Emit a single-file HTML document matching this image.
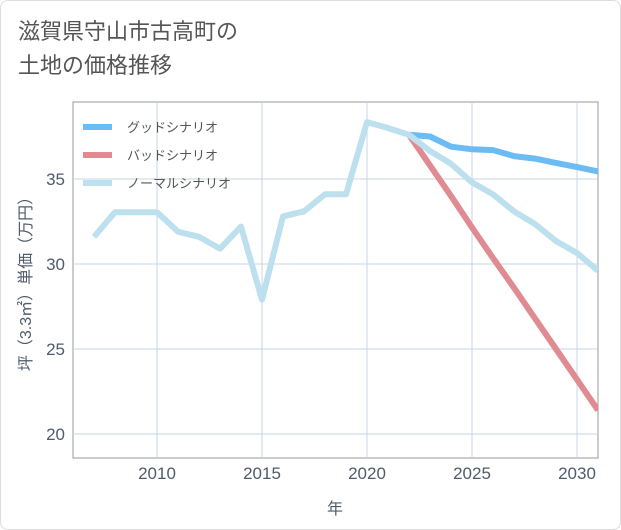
<!DOCTYPE html>
<html><head><meta charset="utf-8"><style>
body{margin:0;background:#fff;}
#wrap{position:relative;width:619px;height:528px;border:1px solid #ddd;border-radius:8px;background:#fff;overflow:hidden;font-family:"Liberation Sans","Noto Sans CJK JP",sans-serif;}
#title{position:absolute;left:17px;top:14px;font-size:22px;line-height:34px;color:#555;}
svg{position:absolute;left:0;top:0;}
</style></head><body>
<div id="wrap">
<div id="title">滋賀県守山市古高町の<br>土地の価格推移</div>
<svg id="chart" width="621" height="530"></svg>
</div>
<script>
const years=[2007,2008,2009,2010,2011,2012,2013,2014,2015,2016,2017,2018,2019,2020,2021,2022,2023,2024,2025,2026,2027,2028,2029,2030,2031];
const normalVals=[31.6,33.05,33.05,33.05,31.9,31.6,30.9,32.2,27.9,32.8,33.1,34.1,34.1,38.35,38.0,37.6,36.65,35.9,34.8,34.1,33.1,32.35,31.35,30.65,29.6];
const goodYears=[2022,2023,2024,2025,2026,2027,2028,2029,2030,2031];
const goodVals=[37.6,37.5,36.9,36.75,36.7,36.35,36.2,35.95,35.7,35.45];
const badVals=[37.6,35.8,34.0,32.15,30.35,28.6,26.8,25.0,23.2,21.4];
const xTicks=[2010,2015,2020,2025,2030];
const yTicks=[20,25,30,35];
const L=72,R=597,T=101,B=457,X0=2006,X1=2031,Y0=18.59,Y1=39.53;
const sx=v=>L+(v-X0)/(X1-X0)*(R-L);
const sy=v=>B-(v-Y0)/(Y1-Y0)*(B-T);
const svg=document.getElementById('chart');
const NS='http://www.w3.org/2000/svg';
function mk(tag,attrs){const e=document.createElementNS(NS,tag);for(const k in attrs)e.setAttribute(k,attrs[k]);svg.appendChild(e);return e;}
let e;
e=mk('rect',{x:L,y:T,width:R-L,height:B-T,fill:'none',stroke:'#999','stroke-width':1});


xTicks.forEach(t=>{
 e=mk('line',{x1:sx(t),x2:sx(t),y1:T,y2:B,stroke:'#c9d6e3','stroke-width':1});
 
 
 e=mk('text',{x:sx(t),y:B+21,'text-anchor':'middle','font-size':17,fill:'#4f5b6b'});e.textContent=t;
 
 
});
yTicks.forEach(t=>{
 e=mk('line',{x1:L,x2:R,y1:sy(t),y2:sy(t),stroke:'#c9d6e3','stroke-width':1});
 
 
 e=mk('text',{x:L-8,y:sy(t)+6,'text-anchor':'end','font-size':17,fill:'#4f5b6b'});e.textContent=t;
 
 
});
e=mk('text',{x:334,y:513,'text-anchor':'middle','font-size':16,fill:'#4f5b6b'});e.textContent='年';


e=mk('text',{x:0,y:0,'text-anchor':'middle','font-size':16,fill:'#4f5b6b',transform:'translate(30,279) rotate(-90)'});e.textContent='坪（3.3㎡）単価（万円）';


const clip=mk('clipPath',{id:'cp'});const cr=document.createElementNS(NS,'rect');
cr.setAttribute('x',L);cr.setAttribute('y',T);cr.setAttribute('width',R-L);cr.setAttribute('height',B-T);clip.appendChild(cr);
function line(xs,vs,color,name){
 const p=xs.map((x,i)=>(i?'L':'M')+sx(x).toFixed(1)+','+sy(vs[i]).toFixed(1)).join(' ');
 const el=mk('path',{d:p,fill:'none',stroke:color,'stroke-width':6,'stroke-linejoin':'round','clip-path':'url(#cp)'});
 
 
}
line(goodYears,goodVals,'#6bbcf2','good-scenario-line');
line(goodYears,badVals,'#e08a92','bad-scenario-line');
line(years,normalVals,'#bde0ee','normal-scenario-line');
const leg=[['グッドシナリオ','#6bbcf2'],['バッドシナリオ','#e08a92'],['ノーマルシナリオ','#bde0ee']];
leg.forEach((l,i)=>{
 const y=126+i*28;
 e=mk('line',{x1:82,x2:111,y1:y,y2:y,stroke:l[1],'stroke-width':6});
 
 
 e=mk('text',{x:126,y:y+5,'font-size':13,fill:'#555'});e.textContent=l[0];
 
 
});
</script>
</body></html>
